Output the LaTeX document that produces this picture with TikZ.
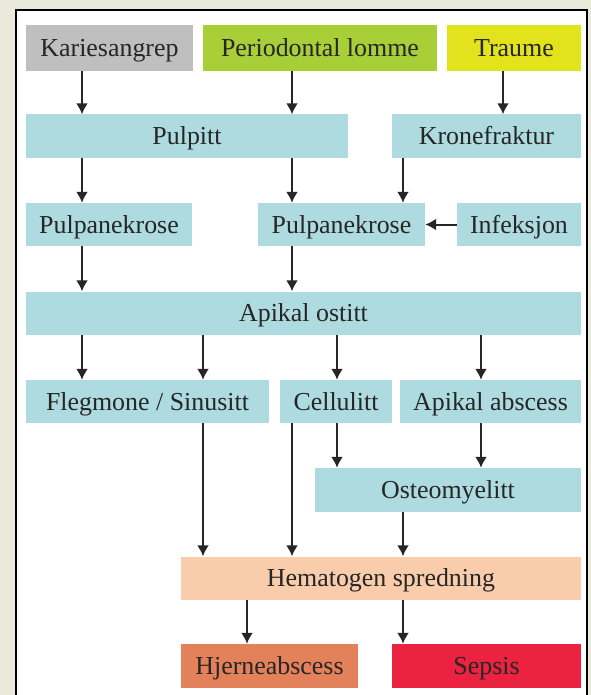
\documentclass[tikz,border=0pt]{standalone}
\usepackage{fontspec}
\setmainfont{Liberation Serif}
\usepackage{tikz}
\usetikzlibrary{arrows.meta,positioning}
\usepackage{xcolor}
\definecolor{bgpage}{HTML}{EAEADC}
\definecolor{cblue}{HTML}{AEDBE0}
\definecolor{cgrey}{HTML}{BFBFBF}
\definecolor{cgreen}{HTML}{A8CF38}
\definecolor{cyellow}{HTML}{E2E31C}
\definecolor{cpeach}{HTML}{F9CDAC}
\definecolor{corange}{HTML}{E3815A}
\definecolor{cred}{HTML}{EB2240}

\begin{document}
\begin{tikzpicture}[
    x=1bp,y=-1bp,
    box/.style={inner sep=0pt,minimum height=43bp,align=center,text=black!85,
        font=\fontsize{26}{28}\selectfont,text height=17bp,text depth=0pt,fill=#1},
    arr/.style={-{Latex[length=11bp,width=12bp]},line width=2bp,black!85}
]
\useasboundingbox (0,0) rectangle (591,695);
\fill[bgpage] (0,0) rectangle (591,695);
\fill[white] (16,10) rectangle (587,695);
\draw[line width=1.2bp] (16,695) |- (587,10) -- (587,695);

\node[box=cgrey,minimum width=167bp,minimum height=46bp] (karies) at (109.5,48) {Kariesangrep};
\node[box=cgreen,minimum width=234bp,minimum height=46bp] (perio) at (320,48) {Periodontal lomme};
\node[box=cyellow,minimum width=134bp,minimum height=46bp] (traume) at (514,48) {Traume};
\node[box=cblue,minimum width=322bp] (pulpitt) at (187,136) {Pulpitt};
\node[box=cblue,minimum width=189bp] (krone) at (486.5,136) {Kronefraktur};
\node[box=cblue,minimum width=166bp] (nekroseA) at (109,224.5) {Pulpanekrose};
\node[box=cblue,minimum width=167bp] (nekroseB) at (341.5,224.5) {Pulpanekrose};
\node[box=cblue,minimum width=124bp] (infeksjon) at (519,224.5) {Infeksjon};
\node[box=cblue,minimum width=555bp] (ostitt) at (303.5,313) {Apikal ostitt};
\node[box=cblue,minimum width=243bp] (flegmone) at (147.5,401.5) {Flegmone / Sinusitt};
\node[box=cblue,minimum width=112bp] (cellulitt) at (336,401.5) {Cellulitt};
\node[box=cblue,minimum width=181bp] (abscess) at (490.5,401.5) {Apikal abscess};
\node[box=cblue,minimum width=266bp,minimum height=44bp] (osteo) at (448,490) {Osteomyelitt};
\node[box=cpeach,minimum width=400bp] (hemato) at (381,578) {Hematogen spredning};
\node[box=corange,minimum width=177bp,minimum height=44bp] (hjerne) at (269.5,666) {Hjerneabscess};
\node[box=cred,minimum width=189bp,minimum height=44bp] (sepsis) at (486.5,666) {Sepsis};

\draw[arr] (karies.south -| 82,0) -- (pulpitt.north -| 82,0);
\draw[arr] (perio.south -| 292,0) -- (pulpitt.north -| 292,0);
\draw[arr] (traume.south -| 503,0) -- (krone.north -| 503,0);
\draw[arr] (pulpitt.south -| 82,0) -- (nekroseA.north -| 82,0);
\draw[arr] (pulpitt.south -| 292,0) -- (nekroseB.north -| 292,0);
\draw[arr] (krone.south -| 403,0) -- (nekroseB.north -| 403,0);
\draw[arr] (infeksjon) -- (nekroseB);
\draw[arr] (nekroseA.south -| 82,0) -- (ostitt.north -| 82,0);
\draw[arr] (nekroseB.south -| 292,0) -- (ostitt.north -| 292,0);
\draw[arr] (ostitt.south -| 82,0) -- (flegmone.north -| 82,0);
\draw[arr] (ostitt.south -| 203,0) -- (flegmone.north -| 203,0);
\draw[arr] (ostitt.south -| 337,0) -- (cellulitt.north -| 337,0);
\draw[arr] (ostitt.south -| 481,0) -- (abscess.north -| 481,0);
\draw[arr] (cellulitt.south -| 337,0) -- (osteo.north -| 337,0);
\draw[arr] (abscess.south -| 481,0) -- (osteo.north -| 481,0);
\draw[arr] (flegmone.south -| 203,0) -- (hemato.north -| 203,0);
\draw[arr] (cellulitt.south -| 292,0) -- (hemato.north -| 292,0);
\draw[arr] (osteo.south -| 403,0) -- (hemato.north -| 403,0);
\draw[arr] (hemato.south -| 247,0) -- (hjerne.north -| 247,0);
\draw[arr] (hemato.south -| 403,0) -- (sepsis.north -| 403,0);
\end{tikzpicture}
\end{document}
